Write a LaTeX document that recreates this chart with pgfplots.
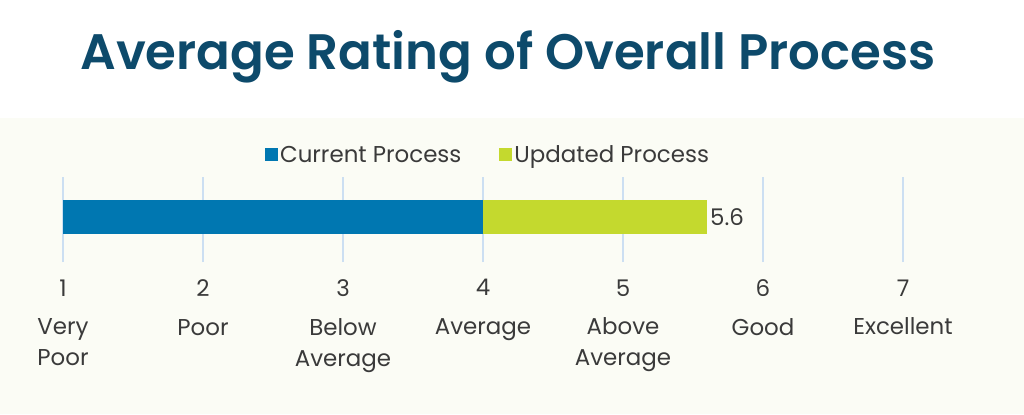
\documentclass[border=0pt]{standalone}
\usepackage{fontspec}
\setmainfont{Poppins}
\newfontfamily\titlefont{Poppins SemiBold}
\usepackage{pgfplots}
\pgfplotsset{compat=1.18}
\definecolor{titleblue}{HTML}{0D4A6B}
\definecolor{curblue}{HTML}{0077B1}
\definecolor{updlime}{HTML}{C4D92E}
\definecolor{gridblue}{HTML}{CCDFF2}
\definecolor{cream}{HTML}{FBFCF5}
\definecolor{txt}{HTML}{3A3A3A}
\begin{document}
\begin{tikzpicture}[x=1bp,y=1bp]
  % page: 1024 x 414
  \fill[white] (0,0) rectangle (1024,414);
  \fill[cream] (0,0) rectangle (1024,296);
  \node[anchor=base, text=titleblue, font=\fontsize{50}{60}\titlefont\selectfont]
    at (508,345) {Average Rating of Overall Process};

  \begin{axis}[
    at={(63bp,152bp)}, anchor=south west,
    scale only axis,
    width=840bp, height=85bp,
    xmin=1, xmax=7,
    ymin=-45, ymax=40,
    xbar stacked,
    bar width=34bp,
    clip mode=individual,
    axis line style={draw=none},
    major tick length=0pt,
    ytick=\empty,
    xtick={1,2,3,4,5,6,7},
    xticklabels={
      1\\[8bp]Very\\Poor,
      2\\[8bp]Poor,
      3\\[8bp]Below\\Average,
      4\\[8bp]Average,
      5\\[8bp]Above\\Average,
      6\\[8bp]Good,
      7\\[8bp]Excellent},
    xticklabel style={align=center, anchor=north, text=txt,
      font=\fontsize{23}{31}\selectfont, yshift=-14bp},
    xmajorgrids,
    grid style={draw=gridblue, line width=1.5bp},
    legend columns=2,
    legend style={at={(axis description cs:0.506,1.259)}, anchor=center,
      draw=none, fill=none, text=txt,
      font=\fontsize{23}{26}\selectfont,
      /tikz/every even column/.append style={column sep=36bp}},
    legend image code/.code={\fill[#1] (-4bp,-6.5bp) rectangle (9bp,6.5bp);},
  ]
    \addplot[fill=curblue, draw=none] coordinates {(4,0)};
    \addlegendentry{Current Process}
    \addplot[fill=updlime, draw=none] coordinates {(1.6,0)};
    \addlegendentry{Updated Process}
    \node[anchor=west, text=txt, font=\fontsize{23}{26}\selectfont, inner sep=3bp]
      at (axis cs:5.6,0) {5.6};
  \end{axis}
\end{tikzpicture}
\end{document}
